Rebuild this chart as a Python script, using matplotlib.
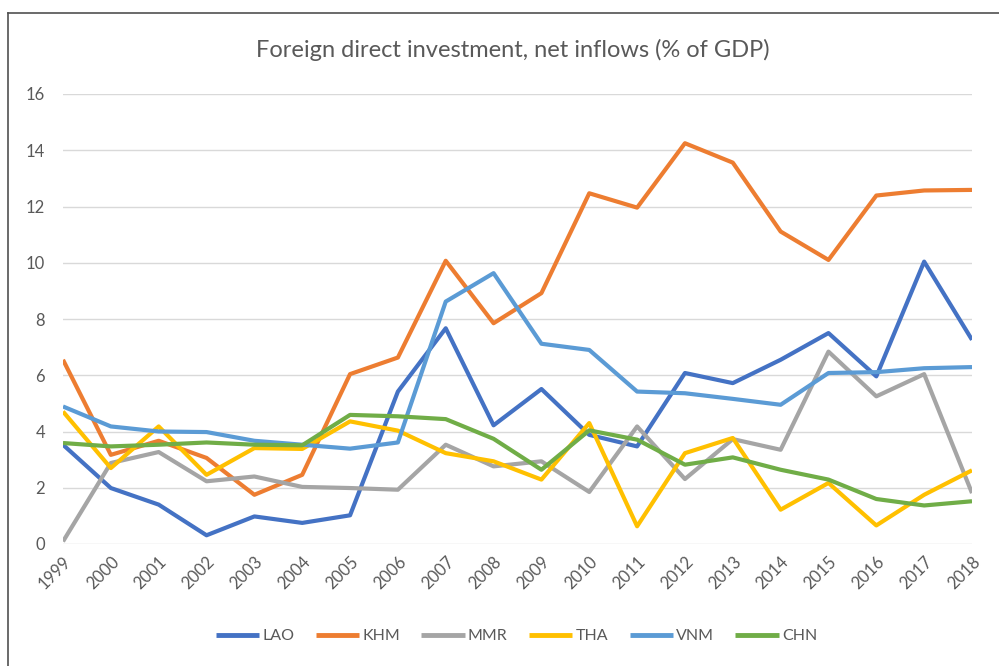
import matplotlib
matplotlib.use("Agg")
import matplotlib.pyplot as plt
from matplotlib.lines import Line2D

plt.rcParams['font.family'] = ['Lato', 'DejaVu Sans']

years = [str(y) for y in range(1999, 2019)]
LAO = [3.53, 1.99, 1.40, 0.31, 0.98, 0.75, 1.02, 5.42, 7.67, 4.22,
       5.51, 3.88, 3.47, 6.08, 5.72, 6.55, 7.50, 5.96, 10.04, 7.26]
KHM = [6.55, 3.17, 3.67, 3.06, 1.75, 2.46, 6.04, 6.63, 10.07, 7.85,
       8.92, 12.47, 11.96, 14.25, 13.56, 11.11, 10.10, 12.39, 12.57, 12.59]
MMR = [0.09, 2.88, 3.27, 2.23, 2.40, 2.03, 1.99, 1.93, 3.53, 2.76,
       2.94, 1.85, 4.18, 2.31, 3.73, 3.35, 6.84, 5.25, 6.04, 1.81]
THA = [4.71, 2.70, 4.18, 2.46, 3.41, 3.38, 4.36, 4.03, 3.23, 2.94,
       2.29, 4.30, 0.63, 3.23, 3.77, 1.22, 2.17, 0.66, 1.75, 2.62]
VNM = [4.89, 4.18, 4.00, 3.98, 3.67, 3.53, 3.39, 3.61, 8.62, 9.63,
       7.12, 6.90, 5.42, 5.36, 5.16, 4.95, 6.08, 6.11, 6.25, 6.29]
CHN = [3.59, 3.47, 3.53, 3.61, 3.53, 3.51, 4.59, 4.54, 4.44, 3.74,
       2.64, 4.04, 3.71, 2.82, 3.08, 2.64, 2.29, 1.60, 1.37, 1.52]

series = [("LAO", LAO, "#4472C4"), ("KHM", KHM, "#ED7D31"),
          ("MMR", MMR, "#A5A5A5"), ("THA", THA, "#FFC000"),
          ("VNM", VNM, "#5B9BD5"), ("CHN", CHN, "#70AD47")]

fig = plt.figure(figsize=(9.99, 6.66), dpi=100)
ax = fig.add_axes([63/999, 1-544/666, (972-63)/999, (544-94)/666])

x = list(range(len(years)))
for name, vals, col in series:
    ax.plot(x, vals, color=col, lw=3.0, label=name,
            solid_joinstyle='round', solid_capstyle='butt')

ax.set_xlim(0, len(years)-1)
ax.set_ylim(0, 16)
ax.set_yticks(range(0, 17, 2))
ax.set_xticks(x)
ax.set_xticklabels(years, rotation=45, ha='right', va='top',
                   rotation_mode='anchor')
ax.grid(axis='y', color='#d9d9d9', lw=1)
ax.set_axisbelow(True)
for s in ax.spines.values():
    s.set_visible(False)
ax.tick_params(axis='both', length=0, labelsize=12, labelcolor='#595959')
ax.tick_params(axis='y', pad=13)
ax.tick_params(axis='x', pad=7)

fig.text(0.513, 1-50/666, "Foreign direct investment, net inflows (% of GDP)",
         ha='center', va='center', fontsize=17, color='#595959')

leg = fig.legend(loc='center', bbox_to_anchor=(0.517, 1-636/666), ncol=6,
                 frameon=False, fontsize=11.5, handlelength=2.7,
                 columnspacing=1.35, handletextpad=0.2)
for t in leg.get_texts():
    t.set_color('#595959')
for h in leg.legend_handles:
    h.set_linewidth(3.5)

# outer frame (top and left edges)
fig.add_artist(Line2D([8/999, 1], [1-13/666, 1-13/666], color='#505050', lw=1.2,
                      transform=fig.transFigure))
fig.add_artist(Line2D([8/999, 8/999], [0, 1-13/666], color='#505050', lw=1.2,
                      transform=fig.transFigure))

fig.savefig("out.png", dpi=100)
